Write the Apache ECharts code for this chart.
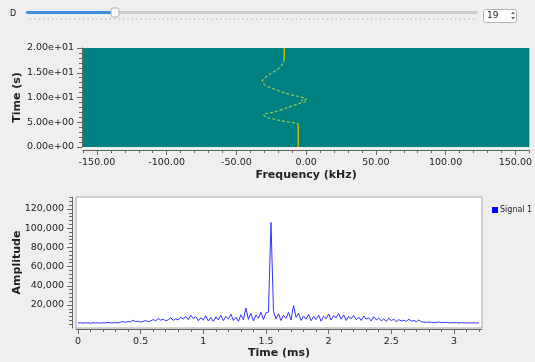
<!DOCTYPE html>
<html>
<head>
<meta charset="utf-8">
<script src="https://cdn.jsdelivr.net/npm/echarts@6/dist/echarts.min.js"></script>
<style>
  html, body { margin: 0; padding: 0; background: #efefef; }
  #main { width: 535px; height: 362px; }
</style>
</head>
<body>
<div id="main"></div>
<script>
// waterfall trace: frequency (kHz) vs time (s)
const topFreq = [-15.7, -15.7];
const topTime = [20.0, 17.8];
const sweepFreq = [-15.7, -16.4, -20.0, -26.0, -30.7, -31.4, -29.5, -24.8, -15.2, -5.7, 0.2, -3.5, -0.5, -5.0, -12.9, -22.4, -30.7, -28.3, -17.6, -6.9, -5.7];
const sweepTime = [17.8, 17.0, 15.8, 14.7, 13.7, 13.2, 12.5, 11.9, 10.9, 10.2, 9.7, 9.4, 9.2, 8.8, 8.0, 7.1, 6.5, 6.0, 5.3, 4.8, 4.6];
const bottomFreq = [-5.7, -5.7];
const bottomTime = [4.6, 0.0];

// time sink amplitude, one sample every 0.02 ms
const sampleStep = 0.02;
const amplitude = [
  1200, 1500, 1100, 1400, 1300, 1000, 1600, 1200, 1400, 1100,
  1500, 1300, 1800, 1200, 1400, 1700, 1300, 2200, 2600, 2000,
  2800, 2300, 4200, 2600, 3100, 2200, 2900, 3800, 2500, 3300,
  4800, 3600, 5900, 4200, 5200, 3500, 4600, 6800, 3900, 5600,
  4300, 7400, 5100, 8200, 4800, 9300, 5900, 7800, 3600, 6500,
  4200, 8700, 3300, 6900, 2800, 7600, 4500, 9400, 3700, 8100,
  5200, 10500, 3900, 7300, 2900, 9800, 4700, 16800, 5100, 11200,
  3400, 9600, 6200, 12400, 4900, 11800, 12600, 106000, 13200, 5400,
  10800, 3800, 9200, 6100, 12300, 4400, 19500, 7200, 11400, 3900,
  8600, 5200, 10100, 3600, 7900, 4800, 9400, 3100, 8300, 5600,
  10600, 4300, 8900, 6800, 11200, 5100, 9600, 3900, 8200, 5500,
  9100, 4600, 7400, 3800, 8500, 5200, 6600, 3400, 7800, 4500,
  6200, 3600, 5400, 2900, 6100, 3800, 5100, 2600, 4700, 3300,
  4200, 2700, 5300, 3100, 3900, 2500, 4400, 2300, 2100, 1900,
  2200, 1700, 2000, 1600, 2300, 1500, 1800, 1900, 1400, 1600,
  1500, 1700, 1300, 1600, 1400, 1200, 1500, 1300, 1400, 1200, 1300
];

const freqTicks = [-150, -100, -50, 0, 50, 100, 150];
const timeTicks = [0, 0.5, 1, 1.5, 2, 2.5, 3];
const ampTicks = [20000, 40000, 60000, 80000, 100000, 120000];

function steps(a, b, s) {
  const out = [];
  for (let v = a; v <= b + 1e-9; v += s) out.push(Math.round(v * 1000) / 1000);
  return out;
}
const freqMinor = steps(-160, 160, 10);
const timeMinor = steps(0, 3.2, 0.1);
const ampMinor = steps(0, 132000, 4000);

function sci(v) {
  const s = v.toExponential(2);
  return s.replace(/e([+-])(\d)$/, (m, sign, d) => 'e' + sign + '0' + d);
}
function pairs(xs, ys) {
  return xs.map((x, i) => [x, ys[i]]);
}

const font = 'DejaVu Sans';
const textColor = '#222';
const axisColor = '#666';

var chartDom = document.getElementById('main');
var myChart = echarts.init(chartDom);
var option;

// slider widget decorations along the top
const sliderTicks = [];
for (let i = 0; i <= 100; i++) {
  sliderTicks.push({
    type: 'rect', shape: { x: 30 + i * 4.43, y: 18, width: 1, height: 2 },
    style: { fill: '#c4c4c4' }, silent: true
  });
}

option = {
  backgroundColor: '#efefef',
  animation: false,
  textStyle: { fontFamily: font },
  graphic: [
    { type: 'text', left: 10, top: 10, style: { text: 'D', fontSize: 8, fill: textColor, fontFamily: font } },
    { type: 'rect', shape: { x: 26, y: 11, width: 452, height: 3, r: 1.5 }, style: { fill: '#cacaca' } },
    { type: 'rect', shape: { x: 26, y: 11, width: 88, height: 3, r: 1.5 }, style: { fill: '#3b8fdc' } },
    { type: 'rect', shape: { x: 111, y: 8, width: 8, height: 9, r: 2 }, style: { fill: '#fafafa', stroke: '#b0b0b0', lineWidth: 1 } },
    ...sliderTicks,
    { type: 'rect', shape: { x: 483.5, y: 9.5, width: 33, height: 13, r: 2 }, style: { fill: '#ffffff', stroke: '#b4b4b4', lineWidth: 1 } },
    { type: 'text', left: 487, top: 11, style: { text: '19', fontSize: 9, fill: textColor, fontFamily: font } },
    { type: 'polygon', shape: { points: [[511, 14], [515, 14], [513, 11.5]] }, style: { fill: '#666' } },
    { type: 'polygon', shape: { points: [[511, 17], [515, 17], [513, 19.5]] }, style: { fill: '#666' } }
  ],
  legend: {
    data: ['Signal 1'],
    left: 487,
    top: 201,
    icon: 'rect',
    itemWidth: 6,
    itemHeight: 6,
    itemGap: 4,
    textStyle: { fontSize: 8, color: textColor, fontFamily: font, padding: [0, 0, 0, -3] }
  },
  grid: [
    { left: 83, top: 48, width: 449, height: 99, show: true, backgroundColor: '#008080', borderWidth: 0 },
    { left: 76, top: 197, width: 406, height: 131, show: true, backgroundColor: '#ffffff', borderColor: '#a8a8a8', borderWidth: 1 }
  ],
  xAxis: [
    {
      gridIndex: 0, type: 'value', position: 'bottom', min: -160, max: 160, offset: 3,
      name: 'Frequency (kHz)', nameLocation: 'middle', nameGap: 20,
      nameTextStyle: { fontSize: 11, fontWeight: 'bold', color: textColor, fontFamily: font },
      axisLine: { show: true, onZero: false, lineStyle: { color: axisColor } },
      axisTick: { show: true, length: 5, customValues: freqTicks, lineStyle: { color: axisColor } },
      axisLabel: { customValues: freqTicks, formatter: v => v.toFixed(2), fontSize: 9.5, color: textColor, margin: 8, fontFamily: font },
      splitLine: { show: false }
    },
    {
      gridIndex: 0, type: 'value', position: 'bottom', min: -160, max: 160, offset: 3,
      axisLine: { show: false, onZero: false },
      axisTick: { show: true, length: 3, customValues: freqMinor, lineStyle: { color: axisColor } },
      axisLabel: { show: false },
      splitLine: { show: false }
    },
    {
      gridIndex: 1, type: 'value', position: 'bottom', min: -0.016, max: 3.224, offset: 1,
      name: 'Time (ms)', nameLocation: 'middle', nameGap: 18,
      nameTextStyle: { fontSize: 11, fontWeight: 'bold', color: textColor, fontFamily: font },
      axisLine: { show: true, onZero: false, lineStyle: { color: axisColor } },
      axisTick: { show: true, length: 5, customValues: timeTicks, lineStyle: { color: axisColor } },
      axisLabel: { customValues: timeTicks, formatter: v => String(v), fontSize: 9.5, color: textColor, margin: 8, fontFamily: font },
      splitLine: { show: false }
    },
    {
      gridIndex: 1, type: 'value', position: 'bottom', min: -0.016, max: 3.224, offset: 1,
      axisLine: { show: false, onZero: false },
      axisTick: { show: true, length: 3, customValues: timeMinor, lineStyle: { color: axisColor } },
      axisLabel: { show: false },
      splitLine: { show: false }
    }
  ],
  yAxis: [
    {
      gridIndex: 0, type: 'value', position: 'left', min: 0, max: 20, interval: 5, offset: 1,
      name: 'Time (s)', nameLocation: 'middle', nameGap: 59, nameMoveOverlap: false,
      nameTextStyle: { fontSize: 11, fontWeight: 'bold', color: textColor, fontFamily: font },
      axisLine: { show: true, onZero: false, lineStyle: { color: axisColor } },
      axisTick: { show: true, length: 5, lineStyle: { color: axisColor } },
      minorTick: { show: true, splitNumber: 5, length: 3, lineStyle: { color: axisColor } },
      axisLabel: { formatter: sci, fontSize: 9.5, color: textColor, margin: 8, fontFamily: font },
      splitLine: { show: false }
    },
    {
      gridIndex: 1, type: 'value', position: 'left', min: -4000, max: 132500, offset: 4,
      name: 'Amplitude', nameLocation: 'middle', nameGap: 49, nameMoveOverlap: false,
      nameTextStyle: { fontSize: 11, fontWeight: 'bold', color: textColor, fontFamily: font },
      axisLine: { show: true, onZero: false, lineStyle: { color: axisColor } },
      axisTick: { show: true, length: 5, customValues: ampTicks, lineStyle: { color: axisColor } },
      axisLabel: { customValues: ampTicks, formatter: v => v.toLocaleString('en-US'), fontSize: 9.5, color: textColor, margin: 8, fontFamily: font },
      splitLine: { show: false }
    },
    {
      gridIndex: 1, type: 'value', position: 'left', min: -4000, max: 132500, offset: 4,
      axisLine: { show: false, onZero: false },
      axisTick: { show: true, length: 3, customValues: ampMinor, lineStyle: { color: axisColor } },
      axisLabel: { show: false },
      splitLine: { show: false }
    }
  ],
  series: [
    {
      name: 'top', type: 'line', xAxisIndex: 0, yAxisIndex: 0, showSymbol: false,
      data: pairs(topFreq, topTime),
      lineStyle: { color: '#e8d000', width: 1.2 }
    },
    {
      name: 'sweep', type: 'line', xAxisIndex: 0, yAxisIndex: 0, showSymbol: false, smooth: 0.3,
      data: pairs(sweepFreq, sweepTime),
      lineStyle: { color: '#98cc50', width: 1.2, type: [3, 2] }
    },
    {
      name: 'bottom', type: 'line', xAxisIndex: 0, yAxisIndex: 0, showSymbol: false,
      data: pairs(bottomFreq, bottomTime),
      lineStyle: { color: '#e8d000', width: 1.2 }
    },
    {
      name: 'Signal 1', type: 'line', xAxisIndex: 2, yAxisIndex: 1, showSymbol: false,
      data: amplitude.map((v, i) => [i * sampleStep, v]),
      itemStyle: { color: '#0000ff' },
      lineStyle: { color: '#3333ff', width: 1 }
    }
  ]
};

option && myChart.setOption(option);
</script>
</body>
</html>
